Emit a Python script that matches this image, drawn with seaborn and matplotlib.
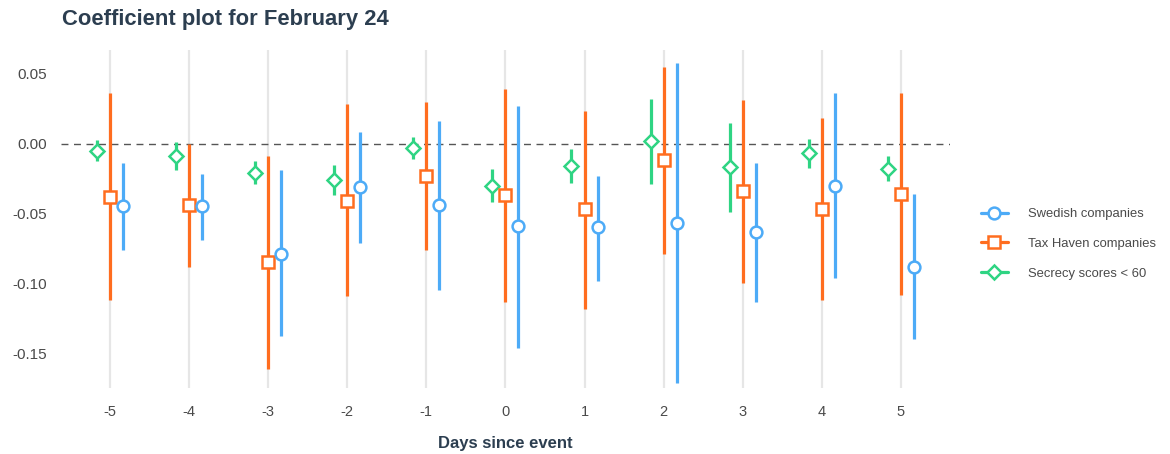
import numpy as np
import pandas as pd
import matplotlib
matplotlib.use("Agg")
import matplotlib.pyplot as plt
from matplotlib.lines import Line2D
import seaborn as sns

# Event-study coefficients with 95% confidence bounds
days = [-5, -4, -3, -2, -1, 0, 1, 2, 3, 4, 5]

swedish_est = [-0.045, -0.045, -0.079, -0.031, -0.044, -0.059, -0.060, -0.057, -0.063, -0.030, -0.088]
swedish_lo = [-0.076, -0.069, -0.138, -0.071, -0.105, -0.146, -0.098, -0.171, -0.113, -0.096, -0.140]
swedish_hi = [-0.014, -0.022, -0.019, 0.008, 0.016, 0.027, -0.023, 0.058, -0.014, 0.036, -0.036]

taxhaven_est = [-0.038, -0.044, -0.085, -0.041, -0.023, -0.037, -0.047, -0.012, -0.034, -0.047, -0.036]
taxhaven_lo = [-0.112, -0.088, -0.161, -0.109, -0.076, -0.113, -0.118, -0.079, -0.100, -0.112, -0.108]
taxhaven_hi = [0.036, 0.000, -0.009, 0.028, 0.030, 0.039, 0.023, 0.055, 0.031, 0.018, 0.036]

secrecy_est = [-0.005, -0.009, -0.021, -0.026, -0.003, -0.030, -0.016, 0.002, -0.017, -0.007, -0.018]
secrecy_lo = [-0.0125, -0.019, -0.029, -0.037, -0.011, -0.042, -0.028, -0.029, -0.049, -0.0175, -0.027]
secrecy_hi = [0.0025, 0.001, -0.0125, -0.015, 0.005, -0.018, -0.004, 0.032, 0.015, 0.003, -0.009]

series_names = ["Swedish companies", "Tax Haven companies", "Secrecy scores < 60"]
series_colors = {"Swedish companies": "#4dabf7",
                 "Tax Haven companies": "#ff6d1f",
                 "Secrecy scores < 60": "#2fd483"}
series_markers = {"Swedish companies": "o",
                  "Tax Haven companies": "s",
                  "Secrecy scores < 60": "D"}

# Long table: each (day, series) contributes lower bound, estimate, upper bound.
# The median recovers the estimate and the full percentile interval the bounds.
rows = []
for name, est, lo, hi in [
    ("Swedish companies", swedish_est, swedish_lo, swedish_hi),
    ("Tax Haven companies", taxhaven_est, taxhaven_lo, taxhaven_hi),
    ("Secrecy scores < 60", secrecy_est, secrecy_lo, secrecy_hi),
]:
    for d, e, l, h in zip(days, est, lo, hi):
        for v in (l, e, h):
            rows.append({"day": str(d), "series": name, "coef": v})
df = pd.DataFrame(rows)

sns.set_theme(style="white")
plt.rcParams["font.family"] = ["Liberation Sans", "DejaVu Sans"]

fig = plt.figure(figsize=(11.7, 4.54), dpi=100)
ax = fig.add_axes([0.052, 0.145, 0.760, 0.745])

plot_order = ["Secrecy scores < 60", "Tax Haven companies", "Swedish companies"]
sns.pointplot(
    data=df, x="day", y="coef", hue="series",
    order=[str(d) for d in days], hue_order=plot_order,
    palette=series_colors,
    markers=[series_markers[n] for n in plot_order],
    linestyles="none",
    estimator="median", errorbar=("pi", 100),
    dodge=0.33, legend=False,
    markersize=8.5, markerfacecolor="white", markeredgewidth=1.8,
    err_kws={"linewidth": 2.3},
    ax=ax,
)

for ln in ax.lines:
    mk = ln.get_marker()
    if mk not in (None, "None", "none", ""):
        ln.set_zorder(4)
        ln.set_markerfacecolor("white")
        if mk == "D":
            ln.set_markersize(7)
    else:
        ln.set_zorder(3)
        ln.set_solid_capstyle("butt")

ax.axhline(0, color="#555555", linestyle=(0, (5, 4)), linewidth=1.0, zorder=2)

ax.set_xlim(-0.62, 10.62)
ax.set_ylim(-0.175, 0.067)
ax.set_yticks([0.05, 0.0, -0.05, -0.10, -0.15])
ax.set_yticklabels(["0.05", "0.00", "-0.05", "-0.10", "-0.15"])
ax.grid(axis="x", color="#e6e6e6", linewidth=1.6, zorder=0)
ax.grid(axis="y", visible=False)
ax.set_axisbelow(True)
for s in ax.spines.values():
    s.set_visible(False)
ax.tick_params(axis="both", length=0, labelsize=10.5, colors="#4a4a4a")
ax.tick_params(axis="y", labelsize=11, pad=10)
ax.tick_params(axis="x", pad=12)

ax.set_ylabel("")
ax.set_xlabel("Days since event", fontsize=12, fontweight="bold",
              color="#2c3e50", labelpad=12)

fig.text(0.053, 1 - 19 / 454, "Coefficient plot for February 24",
         fontsize=15.8, fontweight="bold", color="#2c3e50", va="center", ha="left")

handles = [
    Line2D([], [], color=series_colors[n], marker=series_markers[n],
           markersize=(7 if series_markers[n] == "D" else 8.5),
           markerfacecolor="white", markeredgewidth=1.8, linewidth=2.3)
    for n in series_names
]
fig.legend(handles, series_names, loc="center left",
           bbox_to_anchor=(0.828, 1 - 244 / 454), frameon=False,
           fontsize=9.4, labelcolor="#4a4a4a", handlelength=2.1,
           handletextpad=1.5, labelspacing=1.35)

fig.savefig("out.png", dpi=100)
